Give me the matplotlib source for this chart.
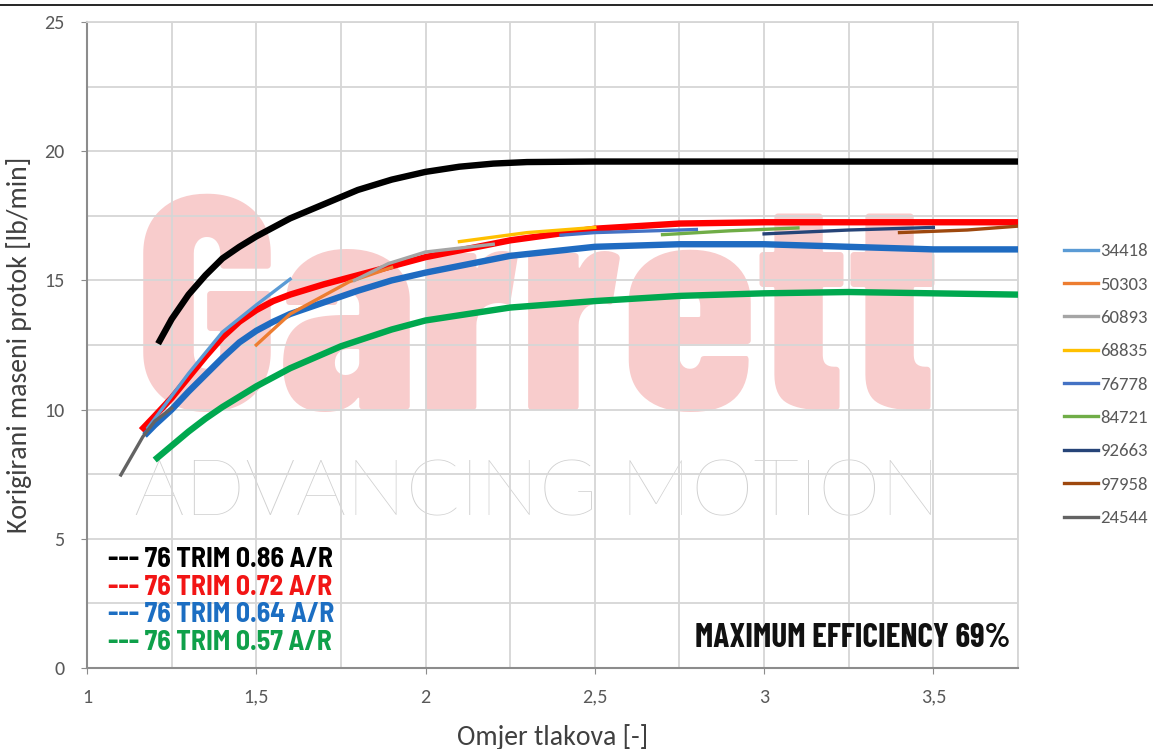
import numpy as np
import matplotlib
matplotlib.use("Agg")
import matplotlib.pyplot as plt
from matplotlib.lines import Line2D
from matplotlib.ticker import MultipleLocator, FuncFormatter

# glavne krivulje (76 TRIM, razni A/R)
x_086 = [1.21, 1.25, 1.3, 1.35, 1.4, 1.45, 1.5, 1.6, 1.7, 1.8, 1.9, 2.0, 2.1, 2.2, 2.3, 2.5, 3.0, 3.5, 3.75]
y_086 = [12.55, 13.5, 14.45, 15.2, 15.85, 16.3, 16.7, 17.4, 17.95, 18.5, 18.9, 19.2, 19.4, 19.52, 19.58, 19.6, 19.6, 19.6, 19.6]

x_072 = [1.16, 1.2, 1.25, 1.3, 1.35, 1.4, 1.45, 1.5, 1.55, 1.6, 1.7, 1.8, 1.9, 2.0, 2.25, 2.5, 2.75, 3.0, 3.5, 3.75]
y_072 = [9.2, 9.75, 10.45, 11.25, 12.05, 12.8, 13.4, 13.85, 14.2, 14.45, 14.85, 15.2, 15.55, 15.9, 16.55, 17.0, 17.2, 17.25, 17.25, 17.25]

x_064 = [1.17, 1.2, 1.25, 1.3, 1.35, 1.4, 1.45, 1.5, 1.55, 1.6, 1.7, 1.8, 1.9, 2.0, 2.25, 2.5, 2.75, 3.0, 3.25, 3.5, 3.75]
y_064 = [9.0, 9.4, 10.0, 10.7, 11.35, 12.0, 12.6, 13.05, 13.4, 13.7, 14.15, 14.6, 15.0, 15.3, 15.95, 16.3, 16.4, 16.4, 16.3, 16.2, 16.2]

x_057 = [1.2, 1.25, 1.3, 1.35, 1.4, 1.5, 1.6, 1.75, 1.9, 2.0, 2.25, 2.5, 2.75, 3.0, 3.25, 3.5, 3.75]
y_057 = [8.05, 8.6, 9.15, 9.65, 10.1, 10.9, 11.6, 12.45, 13.1, 13.45, 13.95, 14.2, 14.4, 14.5, 14.55, 14.5, 14.45]

# tanke linije (brzine vrtnje)
speed_names = ["34418", "50303", "60893", "68835", "76778", "84721", "92663", "97958", "24544"]
speed_x = [
    [1.18, 1.3, 1.4, 1.5, 1.6],
    [1.5, 1.6, 1.775, 1.9],
    [1.79, 1.89, 2.0, 2.2],
    [2.1, 2.3, 2.5],
    [2.4, 2.5, 2.8],
    [2.7, 2.9, 3.1],
    [3.0, 3.25, 3.5],
    [3.4, 3.6, 3.75],
    [1.1, 1.165, 1.2, 1.25],
]
speed_y = [
    [9.3, 11.4, 13.0, 14.05, 15.05],
    [12.5, 13.7, 14.95, 15.5],
    [15.0, 15.65, 16.1, 16.4],
    [16.5, 16.85, 17.05],
    [16.75, 16.85, 16.97],
    [16.77, 16.92, 17.03],
    [16.8, 16.95, 17.05],
    [16.85, 16.95, 17.1],
    [7.47, 8.95, 9.55, 10.05],
]
speed_colors = ["#5B9BD5", "#ED7D31", "#A5A5A5", "#FFC000", "#4472C4",
                "#70AD47", "#264478", "#9E480E", "#636363"]

legend_labels = ["--- 76 TRIM 0.86 A/R", "--- 76 TRIM 0.72 A/R",
                 "--- 76 TRIM 0.64 A/R", "--- 76 TRIM 0.57 A/R"]
legend_colors = ["#000000", "#F21515", "#1C6EC2", "#0FA04A"]

semi = ["Barlow Semi Condensed", "Roboto", "DejaVu Sans"]
narrow = ["Barlow Condensed", "Roboto", "DejaVu Sans"]
plt.rcParams["font.family"] = ["Carlito", "Lato", "DejaVu Sans"]

fig = plt.figure(figsize=(11.53, 7.49), dpi=100)
ax = fig.add_axes([87 / 1153, 1 - 668 / 749, (1018 - 87) / 1153, (668 - 22) / 749])

ax.set_xlim(1, 3.75)
ax.set_ylim(0, 25)


def fit_width(t, target_px):
    r = fig.canvas.get_renderer()
    w = t.get_window_extent(r).width
    t.set_fontsize(t.get_fontsize() * target_px / w)


# watermark
wm1 = ax.text(1.14, 10.0, "Garrett", family=narrow, fontweight=800, fontsize=200,
              color="#F8CCCC", ha="left", va="baseline", zorder=0.1)
wm2 = ax.text(1.14, 5.9, "ADVANCING MOTION", family=["Lato", "DejaVu Sans"], fontweight="light",
              fontsize=58, color="#D0D0D0", ha="left", va="baseline", zorder=0.1)
fit_width(wm1, 805)
fit_width(wm2, 805)

ax.set_axisbelow(True)
ax.xaxis.set_major_locator(MultipleLocator(0.5))
ax.xaxis.set_minor_locator(MultipleLocator(0.25))
ax.yaxis.set_major_locator(MultipleLocator(5))
ax.yaxis.set_minor_locator(MultipleLocator(2.5))
ax.grid(True, which="both", color="#D6D6D6", lw=1.3)
ax.tick_params(which="minor", length=0)
ax.tick_params(which="major", length=4, color="#8C8C8C", labelcolor="#595959", labelsize=14.5)
ax.tick_params(axis="x", pad=11)
ax.tick_params(axis="y", pad=12)
fmt = FuncFormatter(lambda v, p: ("%g" % v).replace(".", ","))
ax.xaxis.set_major_formatter(fmt)
ax.yaxis.set_major_formatter(fmt)

for s in ["top", "right"]:
    ax.spines[s].set_color("#D6D6D6")
    ax.spines[s].set_linewidth(1.3)
for s in ["left", "bottom"]:
    ax.spines[s].set_color("#8C8C8C")
    ax.spines[s].set_linewidth(1.5)

lw_thick = 4.6
style = dict(lw=lw_thick, solid_capstyle="butt", solid_joinstyle="round", zorder=3)
ax.plot(x_086, y_086, color="#000000", **style)
ax.plot(x_072, y_072, color="#FF0000", **style)
ax.plot(x_064, y_064, color="#1F6BC1", **style)
ax.plot(x_057, y_057, color="#00A84F", **style)

handles = []
for xs, ys, c, name in zip(speed_x, speed_y, speed_colors, speed_names):
    h, = ax.plot(xs, ys, color=c, lw=2.4, solid_joinstyle="round", zorder=4, label=name)
    handles.append(h)

fig.legend(handles=handles, loc="upper left", bbox_to_anchor=(1064 / 1153, 1 - 243 / 749),
           frameon=False, fontsize=13.5, labelcolor="#595959", handlelength=1.8,
           handletextpad=0.15, labelspacing=0.92, borderaxespad=0, borderpad=0)

# legenda dolje lijevo
leg_y = [3.91, 2.83, 1.78, 0.70]
for lab, c, yy in zip(legend_labels, legend_colors, leg_y):
    ax.text(1.062, yy, lab, family=semi, fontweight="bold", fontsize=20,
            color=c, ha="left", va="baseline", zorder=5)

ax.text(3.727, 0.81, "MAXIMUM EFFICIENCY 69%", family=narrow, fontweight="bold",
        fontsize=24, color="#111111", ha="right", va="baseline", zorder=5)

ax.set_xlabel("Omjer tlakova [-]", fontsize=20, color="#404040", labelpad=13)
ax.set_ylabel("Korigirani maseni protok [lb/min]", fontsize=20, color="#404040", labelpad=9)

fig.add_artist(Line2D([0, 1], [1 - 5 / 749] * 2, transform=fig.transFigure, color="black", lw=1.2))

fig.savefig("out.png", dpi=100)
